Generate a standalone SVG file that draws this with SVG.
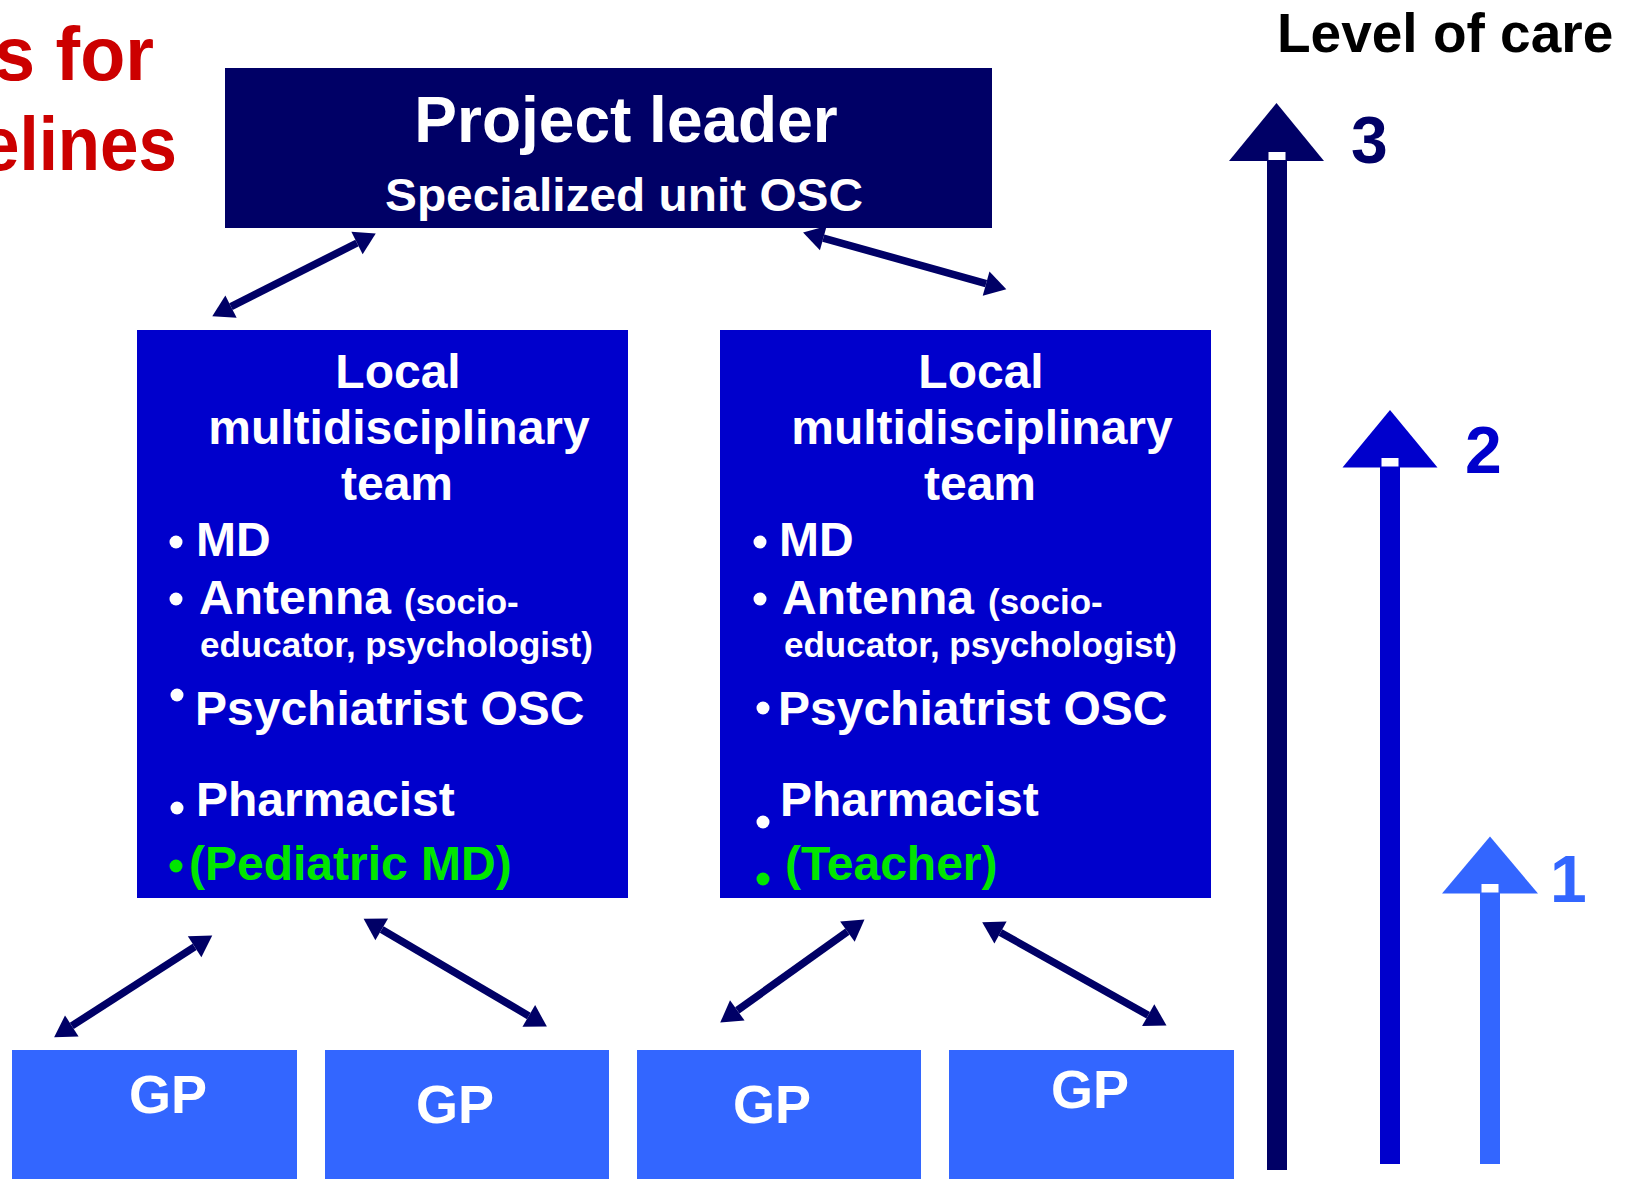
<svg xmlns="http://www.w3.org/2000/svg" width="1638" height="1179" viewBox="0 0 1638 1179">
<style>
.t{font-family:"Liberation Sans",Arial,Helvetica,sans-serif;font-weight:bold}
.w{fill:#fff}
.g{fill:#00E600}
.con{stroke:#000066;stroke-width:7.5;fill:none;marker-start:url(#ah);marker-end:url(#ah)}
</style>
<defs>
<marker id="ah" markerUnits="userSpaceOnUse" markerWidth="30" markerHeight="30" refX="0" refY="0" viewBox="-2 -14 30 28" orient="auto-start-reverse">
<path d="M0,-12.5 L21,0 L0,12.5 z" fill="#000066"/>
</marker>
</defs>
<rect width="1638" height="1179" fill="#fff"/>

<g id="title-fragment">
<text class="t" x="-6" y="80" font-size="76" fill="#CC0000" textLength="160" lengthAdjust="spacingAndGlyphs">s for</text>
<text class="t" x="-19" y="170" font-size="76" fill="#CC0000" textLength="196" lengthAdjust="spacingAndGlyphs">elines</text>
</g>

<g id="project-leader">
<rect x="225" y="68" width="767" height="160" fill="#000066"/>
<text class="t w" x="626" y="142" font-size="64" text-anchor="middle">Project leader</text>
<text class="t w" x="624" y="211" font-size="46" text-anchor="middle" textLength="478" lengthAdjust="spacingAndGlyphs">Specialized unit OSC</text>
</g>

<g id="team-left">
<rect x="137" y="330" width="491" height="568" fill="#0000CC"/>
<g class="t w" font-size="48" text-anchor="middle">
<text x="398" y="388">Local</text>
<text x="399" y="444">multidisciplinary</text>
<text x="397" y="500">team</text>
</g>
<g class="w">
<circle cx="176" cy="542" r="6.5"/>
<circle cx="176" cy="599" r="6.5"/>
<circle cx="177" cy="695" r="6.5"/>
<circle cx="177" cy="808" r="6.5"/>
</g>
<circle cx="176" cy="866" r="6.5" fill="#00E600"/>
<g class="t w" font-size="48">
<text x="196" y="556">MD</text>
<text x="199" y="614">Antenna</text>
<text x="195" y="725">Psychiatrist OSC</text>
<text x="196" y="816">Pharmacist</text>
</g>
<g class="t w" font-size="35">
<text x="404" y="614">(socio-</text>
<text x="200" y="657">educator, psychologist)</text>
</g>
<text class="t g" x="189" y="880" font-size="48">(Pediatric MD)</text>
</g>

<g id="team-right">
<rect x="720" y="330" width="491" height="568" fill="#0000CC"/>
<g class="t w" font-size="48" text-anchor="middle">
<text x="981" y="388">Local</text>
<text x="982" y="444">multidisciplinary</text>
<text x="980" y="500">team</text>
</g>
<g class="w">
<circle cx="760" cy="542" r="6.5"/>
<circle cx="760" cy="599" r="6.5"/>
<circle cx="763" cy="708" r="6.5"/>
<circle cx="763" cy="822" r="6.5"/>
</g>
<circle cx="763" cy="879" r="6.5" fill="#00E600"/>
<g class="t w" font-size="48">
<text x="779" y="556">MD</text>
<text x="782" y="614">Antenna</text>
<text x="778" y="725">Psychiatrist OSC</text>
<text x="780" y="816">Pharmacist</text>
</g>
<g class="t w" font-size="35">
<text x="988" y="614">(socio-</text>
<text x="784" y="657">educator, psychologist)</text>
</g>
<text class="t g" x="785" y="880" font-size="48">(Teacher)</text>
</g>

<g id="gp1"><rect x="12" y="1050" width="285" height="129" fill="#3366FF"/><text class="t w" x="168" y="1113" font-size="54" text-anchor="middle">GP</text></g>
<g id="gp2"><rect x="325" y="1050" width="284" height="129" fill="#3366FF"/><text class="t w" x="455" y="1123" font-size="54" text-anchor="middle">GP</text></g>
<g id="gp3"><rect x="637" y="1050" width="284" height="129" fill="#3366FF"/><text class="t w" x="772" y="1123" font-size="54" text-anchor="middle">GP</text></g>
<g id="gp4"><rect x="949" y="1050" width="285" height="129" fill="#3366FF"/><text class="t w" x="1090" y="1108" font-size="54" text-anchor="middle">GP</text></g>

<g id="connectors">
<line class="con" x1="231" y1="306.7" x2="357" y2="243"/>
<line class="con" x1="823.3" y1="238.1" x2="986.1" y2="283.6"/>
<line class="con" x1="71.8" y1="1025.9" x2="194.6" y2="946.8"/>
<line class="con" x1="381.7" y1="929.4" x2="528.8" y2="1015.9"/>
<line class="con" x1="737.3" y1="1010.4" x2="847.4" y2="931.6"/>
<line class="con" x1="1000.5" y1="932.5" x2="1148.2" y2="1015.2"/>
</g>

<g id="level-of-care">
<text class="t" x="1277" y="52" font-size="55" fill="#000">Level of care</text>
<g id="level3">
<rect x="1267" y="152" width="20" height="1018" fill="#000066"/>
<polygon points="1276.5,103 1229,161 1324,161" fill="#000066"/>
<rect x="1268.5" y="152" width="17" height="8" fill="#fff"/>
<text class="t" x="1351" y="163" font-size="66" fill="#000066">3</text>
</g>
<g id="level2">
<rect x="1380" y="458" width="20" height="706" fill="#0000CC"/>
<polygon points="1390,410 1342.5,467.5 1437.5,467.5" fill="#0000CC"/>
<rect x="1381.5" y="458" width="17" height="8.5" fill="#fff"/>
<text class="t" x="1465" y="473" font-size="66" fill="#0000CC">2</text>
</g>
<g id="level1">
<rect x="1480" y="884" width="20" height="280" fill="#3366FF"/>
<polygon points="1490,836.5 1442,893.5 1538,893.5" fill="#3366FF"/>
<rect x="1481.5" y="884" width="17" height="8.5" fill="#fff"/>
<text class="t" x="1550" y="902" font-size="66" fill="#3366FF">1</text>
</g>
</g>
</svg>
